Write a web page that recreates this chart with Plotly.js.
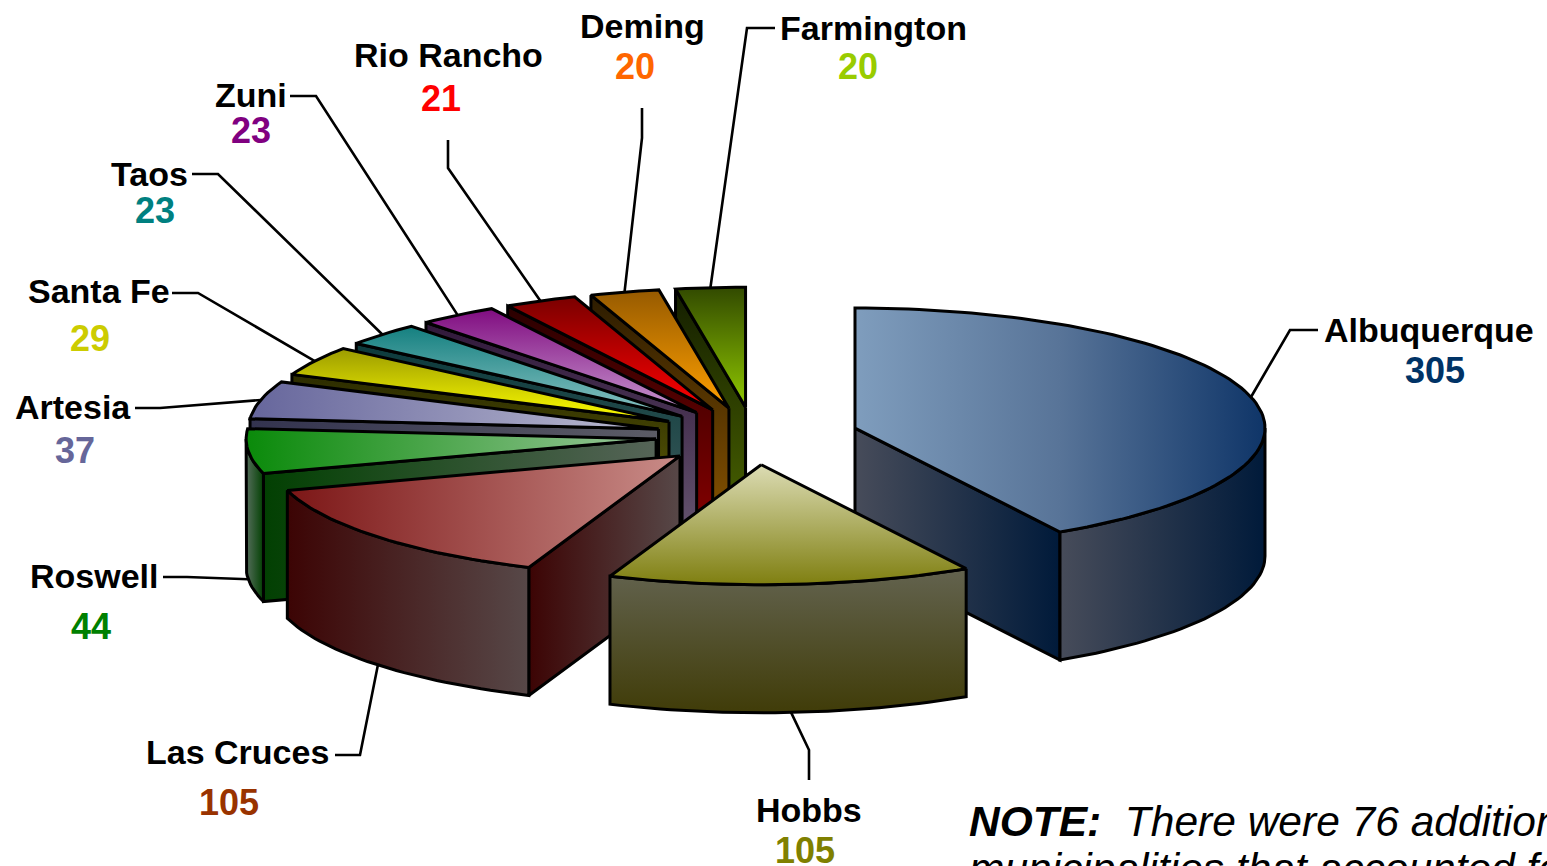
<!DOCTYPE html>
<html>
<head>
<meta charset="utf-8">
<script src="https://cdn.plot.ly/plotly-3.0.1.min.js"></script>
<style>html,body{margin:0;padding:0;background:#fff;overflow:hidden}#chart{width:1547px;height:866px}</style>
</head>
<body>
<div id="chart"></div>
<script>
// ---- data (clockwise from 12 o'clock) ----
const cities = ["Albuquerque","Hobbs","Las Cruces","Roswell","Artesia","Santa Fe","Taos","Zuni","Rio Rancho","Deming","Farmington"];
const counts = [305,105,105,44,37,29,23,23,21,20,20];

// ---- styles ----
const valueColors = ["#003366","#808000","#993300","#008000","#666699","#CCCC00","#008080","#800080","#FF0000","#FF6600","#99CC00"];
const faceGrad = [["#7f9dbd","#587498","#0f3568"],["#dcdcb4","#7f7f10"],["#7c1616","#c98c88"],["#0a8a0a","#9cc89c"],["#66669c","#bcbcd2"],["#9c9c00","#ffff00"],["#148080","#8cc4c4"],["#800c80","#c898d0"],["#7a0000","#ff0000"],["#965a00","#ffa000"],["#324a00","#90c800"]];
const faceDir = ["horizontal","vertical","horizontal","horizontal","horizontal","vertical","vertical","vertical","vertical","vertical","vertical"];
const sideGrad = [["#474c5a","#001a3a"],["#63634f","#403c08"],["#3c0404","#574848"],["#024002","#566458"],["#33334f","#5c5c66"],["#2c2c00","#6a6a08"],["#0c3a3c","#44605f"],["#30183a","#665570"],["#2a0000","#880000"],["#2c1c00","#8a5400"],["#141e00","#4c6600"]];
const rimGrad = [["#474c5a","#001a3a"],["#63634f","#403c08"],["#3c0404","#574848"],["#566e5c","#024002"]];
const sideDir = ["horizontal","vertical","horizontal","horizontal","horizontal","vertical","vertical","vertical","vertical","vertical","vertical"];

// ---- pie geometry (screen units of the axes) ----
const CX = 754, CY = 436, RX = 410, RY = 120, DEPTH = 128;
const explode = [0.255,0.24,0.245,0.24,0.24,0.24,0.24,0.24,0.24,0.24,0.24];

// ---- label layout ----
const nameX  = [1429,809,237,94,73,99,149,251,448,642,873];
const nameY  = [330,810,752,576,407,291,174,95,55,26,28];
const valueX = [1435,805,229,91,75,90,155,251,441,635,858];
const valueY = [370,850,802,626,450,338,210,130,98,66,66];
const elbowA = [[1290,330],[809,750],[360,755],[187,577],[160,408],[198,293],[218,174],[316,96],[448,168],[642,138],[747,28]];
const elbowB = [[1318,330],[809,780],[335,755],[163,577],[135,408],[172,293],[192,174],[290,96],[448,140],[642,108],[775,28]];

const FONT = "Liberation Sans, Arial, sans-serif";
const total = counts.reduce((a,b)=>a+b,0);
const rad = d => d*Math.PI/180;
let acc = 0;
const slices = counts.map((v,i)=>{
  const s = acc/total*360; acc += v; const e = acc/total*360; const m=(s+e)/2;
  return {i,s,e,m,ax:CX+explode[i]*RX*Math.sin(rad(m)),ay:CY-explode[i]*RY*Math.cos(rad(m))};
});
const pt = (sl,a,dz=0)=>[sl.ax+RX*Math.sin(rad(a)), sl.ay-RY*Math.cos(rad(a))+dz];
function arc(sl,a0,a1,dz=0){const n=Math.max(2,Math.ceil(Math.abs(a1-a0)/1.5));const o=[];for(let k=0;k<=n;k++)o.push(pt(sl,a0+(a1-a0)*k/n,dz));return o;}
function poly(points,grad,dir){
  const p = points.concat([points[0]]);
  // the y axis runs downward, so a vertical gradient is read from the bottom up
  const stops = dir==="vertical" ? grad.slice().reverse() : grad;
  return {type:"scatter",mode:"lines",x:p.map(q=>q[0]),y:p.map(q=>q[1]),fill:"toself",
    fillcolor:grad[0],
    fillgradient:{type:dir,colorscale:stops.map((c,k)=>[k/(stops.length-1),c])},
    line:{color:"#000",width:3},hoverinfo:"skip",showlegend:false};
}
const traces=[];
slices.slice().sort((a,b)=>Math.cos(rad(b.m))-Math.cos(rad(a.m))).forEach(sl=>{
  const i=sl.i, apex=[sl.ax,sl.ay], apexB=[sl.ax,sl.ay+DEPTH];
  const sg=sideGrad[i], sd=sideDir[i];
  if(Math.sin(rad(sl.s))<-1e-6) traces.push(poly([apex,pt(sl,sl.s),pt(sl,sl.s,DEPTH),apexB],sg,sd));
  if(Math.sin(rad(sl.e))> 1e-6) traces.push(poly([apex,pt(sl,sl.e),pt(sl,sl.e,DEPTH),apexB],sg,sd));
  const r0=Math.max(sl.s,90), r1=Math.min(sl.e,270);
  if(r1>r0) traces.push(poly(arc(sl,r0,r1).concat(arc(sl,r1,r0,DEPTH)),rimGrad[i],sd));
  traces.push(poly([apex].concat(arc(sl,sl.s,sl.e)),faceGrad[i],faceDir[i]));
});
// leader lines start on the rim of their slice
slices.forEach(sl=>{
  const i=sl.i, dz=Math.cos(rad(sl.m))<0?DEPTH:0, st=pt(sl,sl.m,dz);
  const P=[st,elbowA[i],elbowB[i]];
  traces.unshift({type:"scatter",mode:"lines",x:P.map(q=>q[0]),y:P.map(q=>q[1]),line:{color:"#000",width:2.6},hoverinfo:"skip",showlegend:false});
});
const ann=[];
cities.forEach((c,i)=>{
  ann.push({x:nameX[i],y:nameY[i],xref:"x",yref:"y",text:"<b>"+c+"</b>",showarrow:false,xanchor:"center",yanchor:"middle",font:{family:FONT,size:34,color:"#000"}});
  ann.push({x:valueX[i],y:valueY[i],xref:"x",yref:"y",text:"<b>"+counts[i]+"</b>",showarrow:false,xanchor:"center",yanchor:"middle",font:{family:FONT,size:36,color:valueColors[i]}});
});
ann.push({x:967,y:796,xref:"x",yref:"y",text:"<b><i>NOTE:</i></b>  <i>There were 76 additional</i>",showarrow:false,xanchor:"left",yanchor:"top",font:{family:FONT,size:42.5,color:"#000"}});
ann.push({x:967,y:843,xref:"x",yref:"y",text:"<i>municipalities that accounted for</i>",showarrow:false,xanchor:"left",yanchor:"top",font:{family:FONT,size:42.5,color:"#000"}});

Plotly.newPlot("chart",traces,{
  width:1547,height:866,autosize:false,margin:{l:0,r:0,t:0,b:0,pad:0},
  paper_bgcolor:"#fff",plot_bgcolor:"#fff",showlegend:false,
  xaxis:{range:[0,1547],visible:false,fixedrange:true},
  yaxis:{range:[866,0],visible:false,fixedrange:true},
  annotations:ann
},{displayModeBar:false,staticPlot:true});
</script>
</body>
</html>
